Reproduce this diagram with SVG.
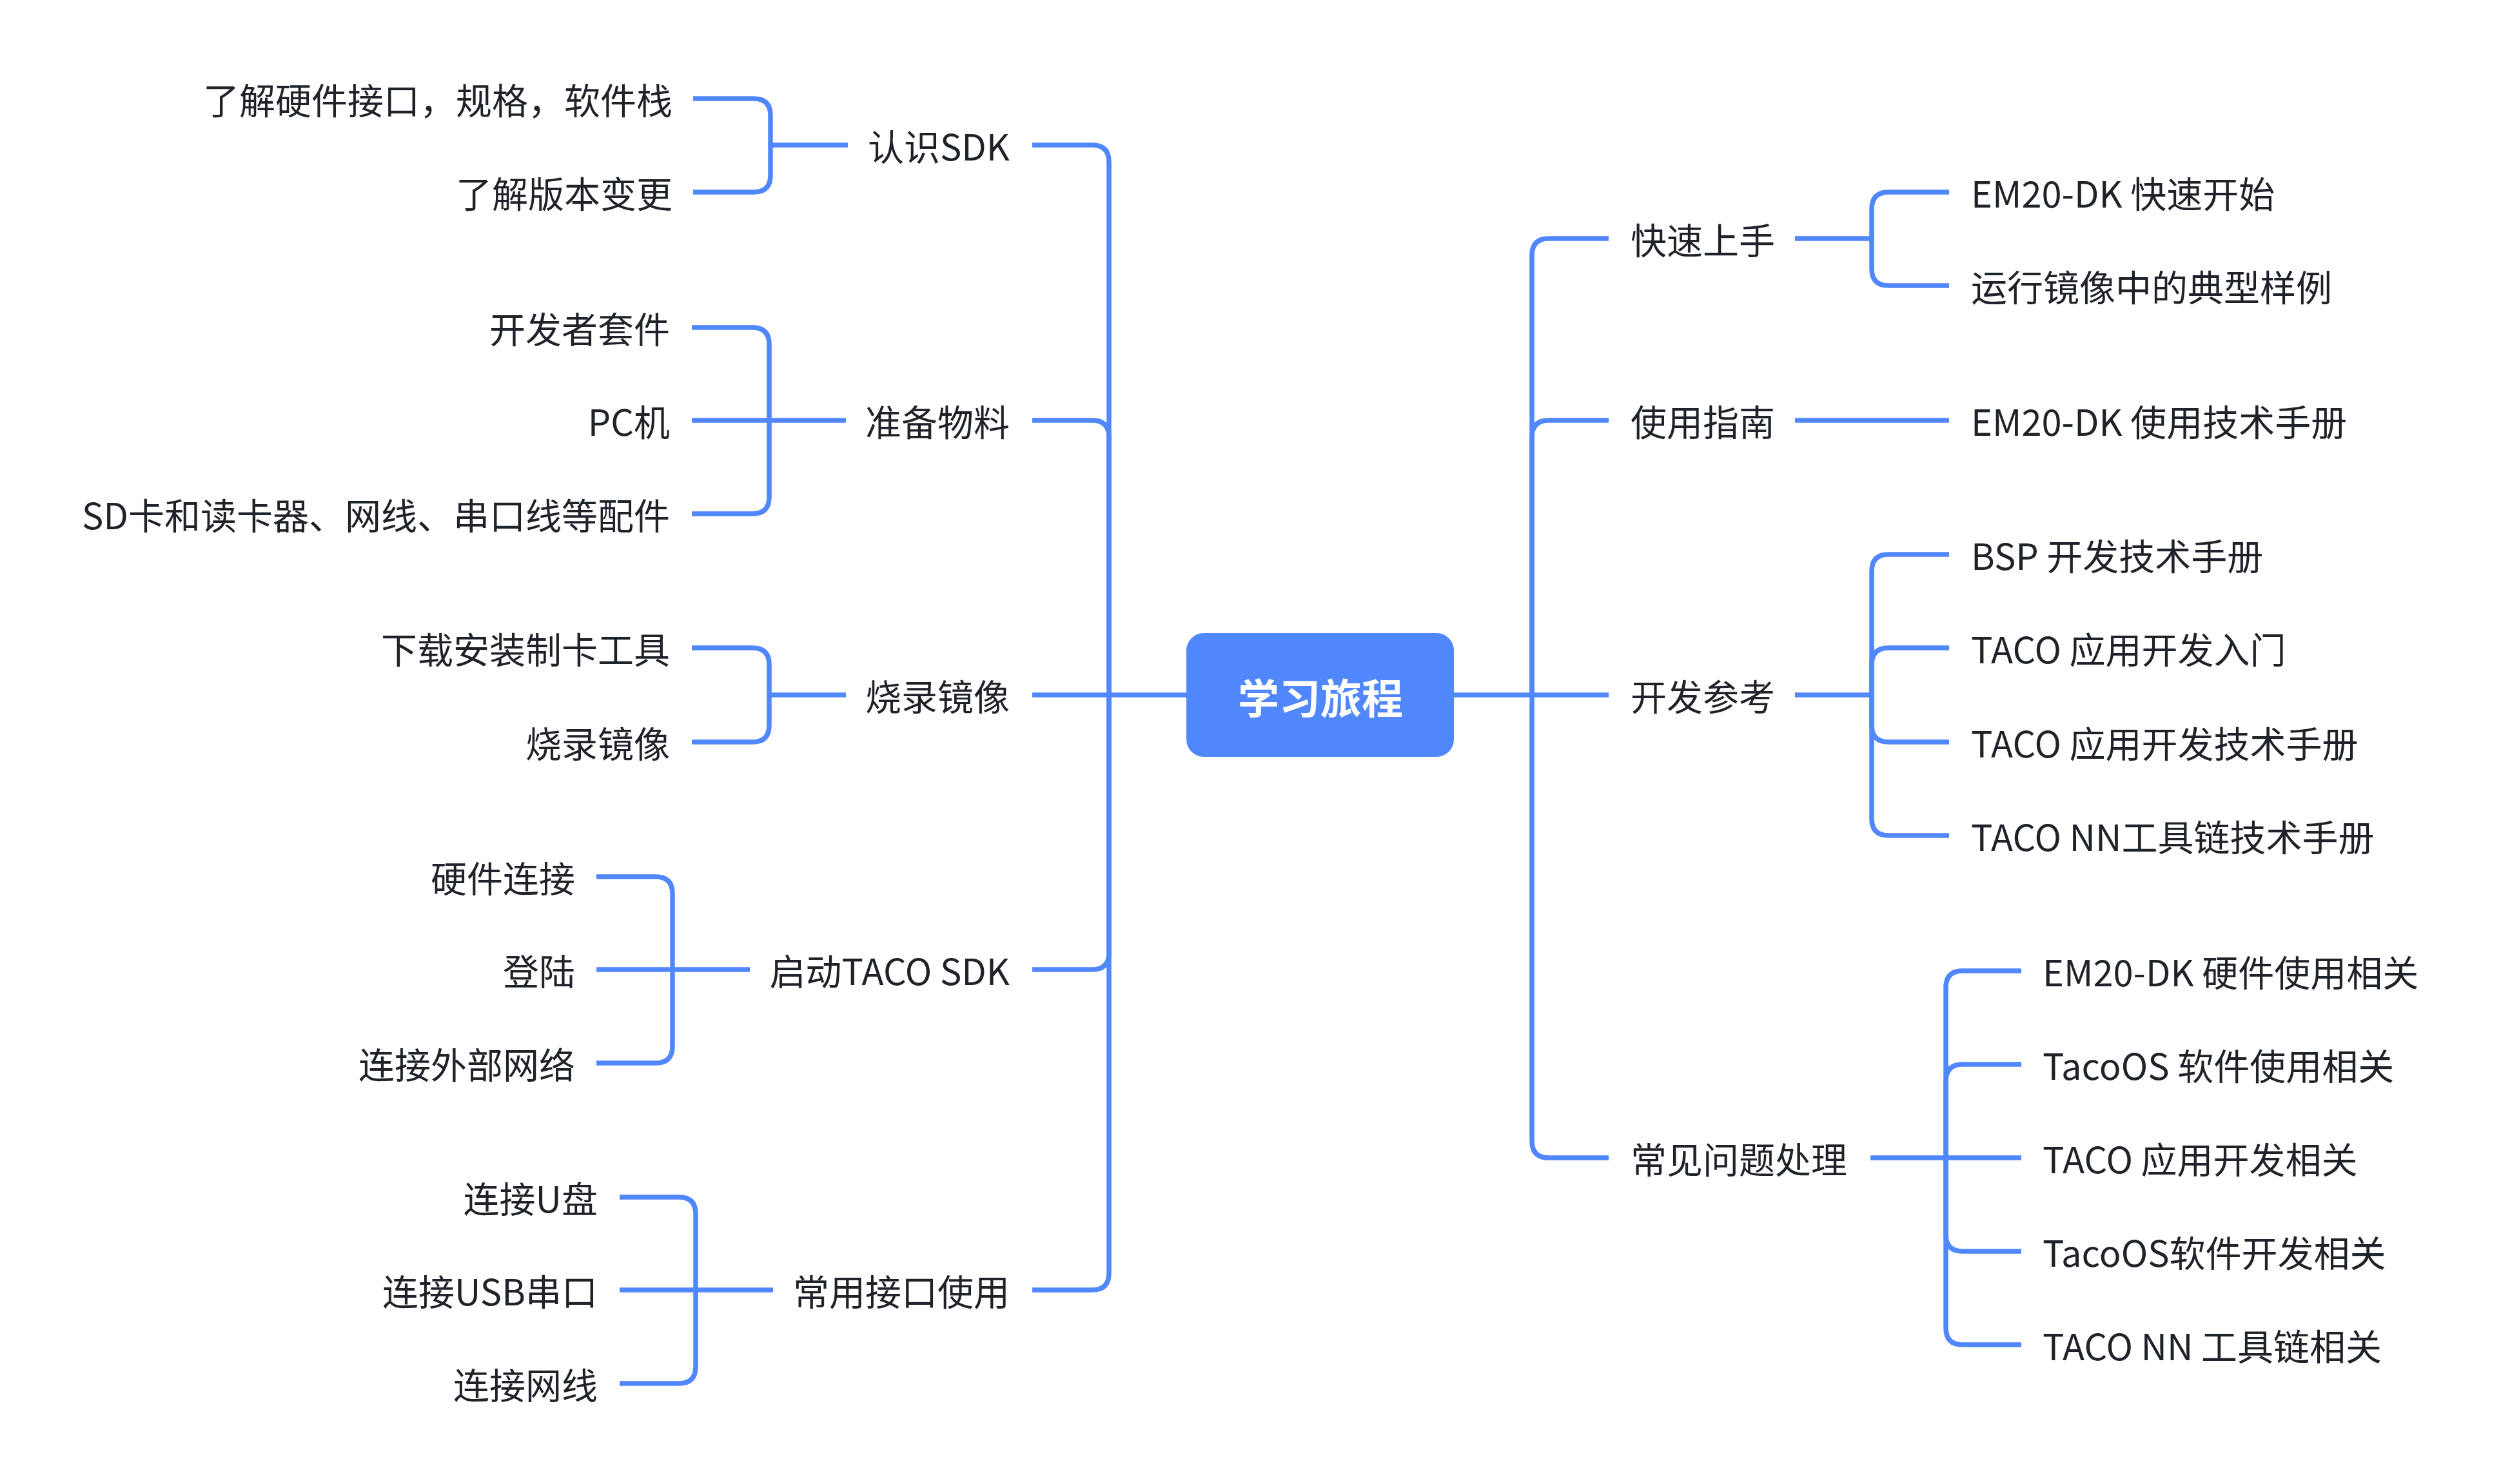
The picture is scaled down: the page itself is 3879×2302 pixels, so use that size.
<svg xmlns="http://www.w3.org/2000/svg" width="3879" height="2302" viewBox="0 0 3879 2302">
<style>
.c{fill:none;stroke:#5087FD;stroke-width:7.5;stroke-linejoin:round}
text{font-family:"Noto Sans CJK SC","Noto Sans",sans-serif;font-size:56px;fill:#1F2329}
.e{text-anchor:end}
.root{font-size:64px;font-weight:bold;fill:#FFFFFF;text-anchor:middle}
</style>
<rect width="3879" height="2302" fill="#FFFFFF"/>
<g id="connectors">
<path class="c" d="M1840,1078 H1601"/>
<path class="c" d="M1720,1078 V251 Q1720,225 1694,225 H1601"/>
<path class="c" d="M1720,1078 V678 Q1720,652 1694,652 H1601"/>
<path class="c" d="M1720,1078 V1478 Q1720,1504 1694,1504 H1601"/>
<path class="c" d="M1720,1078 V1975 Q1720,2001 1694,2001 H1601"/>
<path class="c" d="M2255,1078 H2495"/>
<path class="c" d="M2376,1078 V396 Q2376,370 2402,370 H2495"/>
<path class="c" d="M2376,1078 V678 Q2376,652 2402,652 H2495"/>
<path class="c" d="M2376,1078 V1770 Q2376,1796 2402,1796 H2495"/>
<path class="c" d="M1315,225 H1195 V179 Q1195,153 1169,153 H1075"/>
<path class="c" d="M1195,225 V272 Q1195,298 1169,298 H1075"/>
<path class="c" d="M1312,652 H1073"/>
<path class="c" d="M1193,652 V534 Q1193,508 1167,508 H1073"/>
<path class="c" d="M1193,652 V771 Q1193,797 1167,797 H1073"/>
<path class="c" d="M1312,1078 H1193 V1031 Q1193,1005 1167,1005 H1073"/>
<path class="c" d="M1193,1078 V1125 Q1193,1151 1167,1151 H1073"/>
<path class="c" d="M1163,1504 H925"/>
<path class="c" d="M1043,1504 V1386 Q1043,1360 1017,1360 H925"/>
<path class="c" d="M1043,1504 V1623 Q1043,1649 1017,1649 H925"/>
<path class="c" d="M1199,2001 H961"/>
<path class="c" d="M1079,2001 V1883 Q1079,1857 1053,1857 H961"/>
<path class="c" d="M1079,2001 V2120 Q1079,2146 1053,2146 H961"/>
<path class="c" d="M2784,370 H2903 V324 Q2903,298 2929,298 H3023"/>
<path class="c" d="M2903,370 V417 Q2903,443 2929,443 H3023"/>
<path class="c" d="M2784,652 H3023"/>
<path class="c" d="M2784,1078 H2903 V886 Q2903,860 2929,860 H3023"/>
<path class="c" d="M2903,1078 V1031 Q2903,1005 2929,1005 H3023"/>
<path class="c" d="M2903,1078 V1125 Q2903,1151 2929,1151 H3023"/>
<path class="c" d="M2903,1078 V1270 Q2903,1296 2929,1296 H3023"/>
<path class="c" d="M2901,1796 H3135"/>
<path class="c" d="M3018,1796 V1532 Q3018,1506 3044,1506 H3135"/>
<path class="c" d="M3018,1796 V1677 Q3018,1651 3044,1651 H3135"/>
<path class="c" d="M3018,1796 V1915 Q3018,1941 3044,1941 H3135"/>
<path class="c" d="M3018,1796 V2060 Q3018,2086 3044,2086 H3135"/>
</g>
<g id="root"><rect x="1840" y="982" width="415" height="192" rx="27" fill="#5087FD"/><text class="root" x="2048" y="1107">学习旅程</text></g>
<g id="n-renshi"><text class="e" x="1566" y="249">认识SDK</text></g>
<g id="n-zhunbei"><text class="e" x="1566" y="676">准备物料</text></g>
<g id="n-shaolu"><text class="e" x="1566" y="1102">烧录镜像</text></g>
<g id="n-qidong"><text class="e" x="1566" y="1528">启动TACO SDK</text></g>
<g id="n-changyong"><text class="e" x="1566" y="2025">常用接口使用</text></g>
<g id="n-l1"><text class="e" x="1043" y="177">了解硬件接口，规格，软件栈</text></g>
<g id="n-l2"><text class="e" x="1043" y="322">了解版本变更</text></g>
<g id="n-l3"><text class="e" x="1039" y="532">开发者套件</text></g>
<g id="n-l4"><text class="e" x="1039" y="676">PC机</text></g>
<g id="n-l5"><text class="e" x="1039" y="821">SD卡和读卡器、网线、串口线等配件</text></g>
<g id="n-l6"><text class="e" x="1039" y="1029">下载安装制卡工具</text></g>
<g id="n-l7"><text class="e" x="1039" y="1175">烧录镜像</text></g>
<g id="n-l8"><text class="e" x="892" y="1384">硬件连接</text></g>
<g id="n-l9"><text class="e" x="892" y="1528">登陆</text></g>
<g id="n-l10"><text class="e" x="892" y="1673">连接外部网络</text></g>
<g id="n-l11"><text class="e" x="927" y="1881">连接U盘</text></g>
<g id="n-l12"><text class="e" x="927" y="2025">连接USB串口</text></g>
<g id="n-l13"><text class="e" x="927" y="2170">连接网线</text></g>
<g id="n-kuaisu"><text x="2529" y="394">快速上手</text></g>
<g id="n-shiyong"><text x="2529" y="676">使用指南</text></g>
<g id="n-kaifa"><text x="2529" y="1102">开发参考</text></g>
<g id="n-changjian"><text x="2529" y="1820">常见问题处理</text></g>
<g id="n-r1"><text x="3057" y="322">EM20-DK 快速开始</text></g>
<g id="n-r2"><text x="3057" y="467">运行镜像中的典型样例</text></g>
<g id="n-r3"><text x="3057" y="676">EM20-DK 使用技术手册</text></g>
<g id="n-r4"><text x="3057" y="884">BSP 开发技术手册</text></g>
<g id="n-r5"><text x="3057" y="1029">TACO 应用开发入门</text></g>
<g id="n-r6"><text x="3057" y="1175">TACO 应用开发技术手册</text></g>
<g id="n-r7"><text x="3057" y="1320">TACO NN工具链技术手册</text></g>
<g id="n-r8"><text x="3168" y="1530">EM20-DK 硬件使用相关</text></g>
<g id="n-r9"><text x="3168" y="1675">TacoOS 软件使用相关</text></g>
<g id="n-r10"><text x="3168" y="1820">TACO 应用开发相关</text></g>
<g id="n-r11"><text x="3168" y="1965">TacoOS软件开发相关</text></g>
<g id="n-r12"><text x="3168" y="2110">TACO NN 工具链相关</text></g>
</svg>
